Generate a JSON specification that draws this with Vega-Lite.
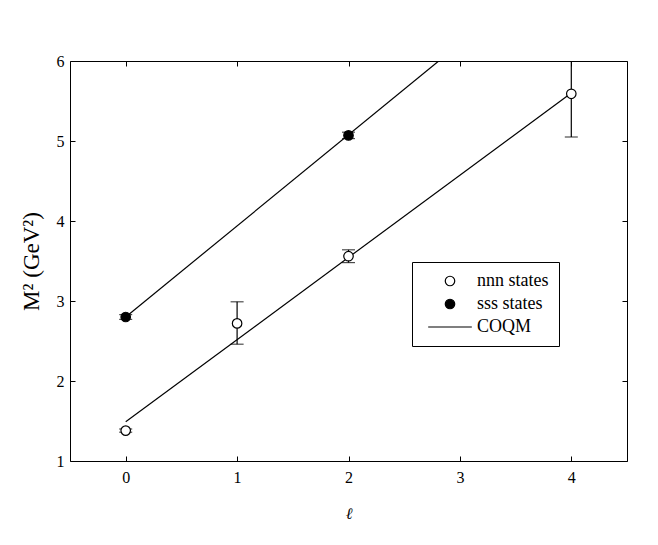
{
  "$schema": "https://vega.github.io/schema/vega-lite/v6.json",
  "width": 557,
  "height": 400,
  "autosize": {"type": "none"},
  "padding": {"left": 70, "top": 61, "right": 31, "bottom": 84},
  "background": "white",
  "config": {
    "view": {"stroke": "black", "strokeWidth": 1},
    "font": "Liberation Serif",
    "axis": {"labelFont": "Liberation Serif", "titleFont": "Liberation Serif", "labelFontSize": 16, "titleFontWeight": "normal", "grid": false, "domain": false, "tickColor": "black", "labelColor": "black", "titleColor": "black"},
    "legend": {"orient": "none", "legendX": 342, "legendY": 201, "title": null, "strokeColor": "black", "fillColor": "white", "padding": 10, "labelFont": "Liberation Serif", "labelFontSize": 18, "labelColor": "black", "labelOffset": 18, "symbolOffset": 19, "rowPadding": 5, "symbolSize": 90, "symbolStrokeWidth": 1.2}
  },
  "datasets": {
    "pts": [
      {"l": 0, "m2": 1.38, "lo": 1.36, "hi": 1.40, "series": "nnn states"},
      {"l": 1, "m2": 2.72, "lo": 2.46, "hi": 2.99, "series": "nnn states"},
      {"l": 2, "m2": 3.56, "lo": 3.48, "hi": 3.64, "series": "nnn states"},
      {"l": 4, "m2": 5.59, "lo": 5.05, "hi": 6.4, "series": "nnn states"},
      {"l": 0, "m2": 2.80, "lo": 2.77, "hi": 2.83, "series": "sss states"},
      {"l": 2, "m2": 5.07, "lo": 5.03, "hi": 5.11, "series": "sss states"}
    ],
    "lines": [
      {"l": 0, "m2": 1.49, "line": "nnn"},
      {"l": 4, "m2": 5.6, "line": "nnn"},
      {"l": 0, "m2": 2.8, "line": "sss"},
      {"l": 2.81, "m2": 6.0, "line": "sss"}
    ]
  },
  "layer": [
    {
      "data": {"name": "lines"},
      "mark": {"type": "line", "color": "black", "strokeWidth": 1.2, "clip": true},
      "encoding": {
        "x": {"field": "l", "type": "quantitative", "scale": {"domain": [-0.5, 4.5], "nice": false, "zero": false},
              "axis": {"orient": "bottom", "values": [0, 1, 2, 3, 4], "tickSize": -5, "labelPadding": 13, "title": "ℓ", "titleFontStyle": "italic", "titleFontSize": 16, "titlePadding": 20}},
        "y": {"field": "m2", "type": "quantitative", "scale": {"domain": [1, 6], "nice": false, "zero": false},
              "axis": {"orient": "left", "values": [1, 2, 3, 4, 5, 6], "tickSize": -5, "labelPadding": 11, "title": "M² (GeV²)", "titleFontSize": 23, "titlePadding": 13}},
        "detail": {"field": "line"}
      }
    },
    {
      "data": {"name": "pts"},
      "mark": {"type": "rule", "color": "black", "strokeWidth": 1.2, "clip": true},
      "encoding": {
        "x": {"field": "l", "type": "quantitative", "axis": null},
        "y": {"field": "lo", "type": "quantitative", "axis": null},
        "y2": {"field": "hi"}
      }
    },
    {
      "data": {"name": "pts"},
      "mark": {"type": "tick", "orient": "horizontal", "color": "black", "size": 13, "thickness": 1.2, "clip": true},
      "encoding": {
        "x": {"field": "l", "type": "quantitative", "axis": null},
        "y": {"field": "lo", "type": "quantitative", "axis": null}
      }
    },
    {
      "data": {"name": "pts"},
      "mark": {"type": "tick", "orient": "horizontal", "color": "black", "size": 13, "thickness": 1.2, "clip": true},
      "encoding": {
        "x": {"field": "l", "type": "quantitative", "axis": null},
        "y": {"field": "hi", "type": "quantitative", "axis": null}
      }
    },
    {
      "data": {"name": "pts"},
      "mark": {"type": "point", "strokeWidth": 1.2, "opacity": 1, "fillOpacity": 1, "filled": false, "size": 90},
      "encoding": {
        "x": {"field": "l", "type": "quantitative",
              "axis": {"orient": "top", "values": [0, 1, 2, 3, 4], "tickSize": -5, "labels": false, "title": null}},
        "y": {"field": "m2", "type": "quantitative",
              "axis": {"orient": "right", "values": [1, 2, 3, 4, 5, 6], "tickSize": -5, "labels": false, "title": null}},
        "stroke": {"field": "series", "type": "nominal",
                 "scale": {"domain": ["nnn states", "sss states", "COQM"], "range": ["black", "black", "black"]},
                 "legend": {"encode": {"labels": {"update": {"font": {"value": "Liberation Serif"}}}}}},
        "fill": {"field": "series", "type": "nominal",
                 "scale": {"domain": ["nnn states", "sss states", "COQM"], "range": ["white", "black", "transparent"]},
                 "legend": {"encode": {"labels": {"update": {"font": {"value": "Liberation Serif"}}}}}},
        "shape": {"field": "series", "type": "nominal",
                  "scale": {"domain": ["nnn states", "sss states", "COQM"], "range": ["circle", "circle", "M-4.6,0H4.6"]},
                  "legend": {"encode": {"labels": {"update": {"font": {"value": "Liberation Serif"}}}}}}
      }
    }
  ],
  "resolve": {"axis": {"x": "independent", "y": "independent"}}
}
